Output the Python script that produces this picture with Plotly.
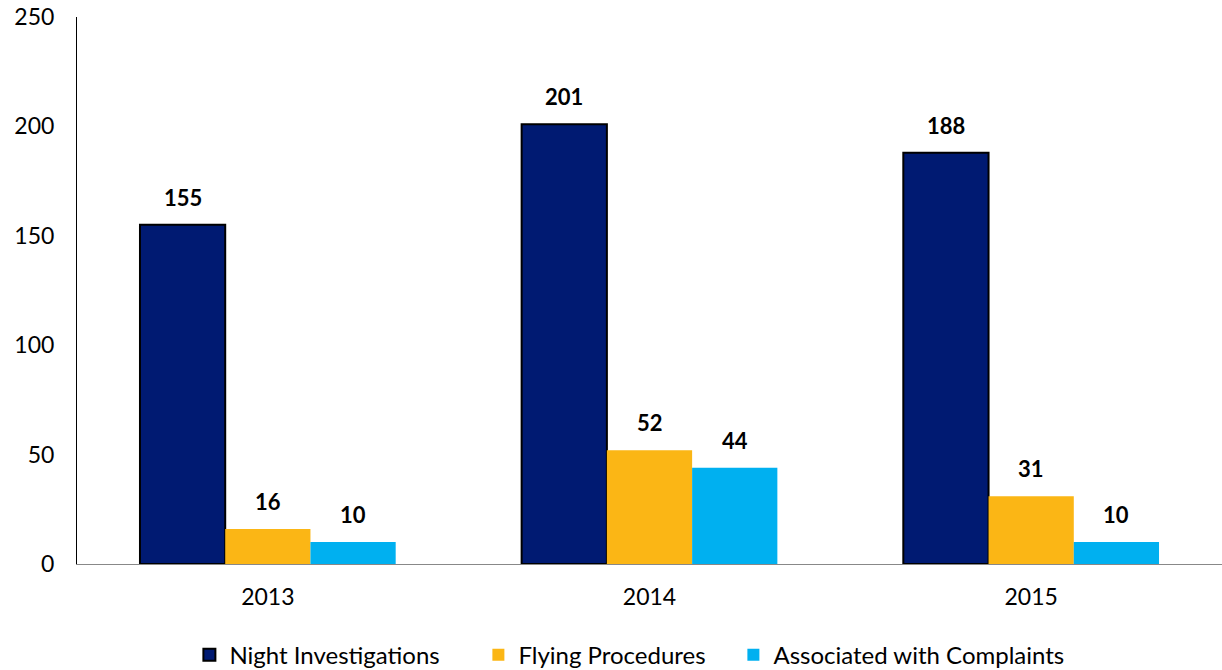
import plotly.graph_objects as go

years = ["2013", "2014", "2015"]
night_investigations = [155, 201, 188]
flying_procedures = [16, 52, 31]
associated_complaints = [10, 44, 10]
y_ticks = [0, 50, 100, 150, 200, 250]

series = [
    ("Night Investigations", night_investigations, "#001A72", "black", 2, 244),
    ("Flying Procedures", flying_procedures, "#FBB615", "#FBB615", 0, 210),
    ("Associated with Complaints", associated_complaints, "#00B0F0", "#00B0F0", 0, 290),
]

BARGAP = 0.33
FONT = "Lato, 'Open Sans', sans-serif"

x_pos = list(range(len(years)))
bar_w = (1 - BARGAP) / len(series)

fig = go.Figure()
for j, (name, vals, color, edge, lw, lgw) in enumerate(series):
    fig.add_trace(go.Bar(
        x=x_pos, y=vals, name=name, legendwidth=lgw,
        marker=dict(color=color, line=dict(color=edge, width=lw)),
    ))
    offset = (j - (len(series) - 1) / 2) * bar_w
    for i, v in enumerate(vals):
        fig.add_annotation(
            x=x_pos[i] + offset, y=v, text=f"<b>{v}</b>",
            showarrow=False, yanchor="bottom", yshift=12,
            font=dict(size=22, color="black", family=FONT),
        )

fig.update_layout(
    width=1222, height=670,
    margin=dict(l=77, r=0, t=17, b=106),
    barmode="group", bargap=BARGAP, bargroupgap=0,
    plot_bgcolor="white", paper_bgcolor="white",
    font=dict(family=FONT, size=23, color="black"),
    legend=dict(
        orientation="h", x=0.482, xanchor="center",
        yref="container", y=0.022, yanchor="middle",
        font=dict(size=24), traceorder="normal",
    ),
    xaxis=dict(
        tickvals=x_pos, ticktext=years, range=[-0.5, len(years) - 0.5],
        showline=True, linecolor="#888888", linewidth=1,
        showgrid=False, zeroline=False, ticks="", ticklabelstandoff=12,
    ),
    yaxis=dict(
        range=[0, 250], tickvals=y_ticks, showline=True, linecolor="black",
        linewidth=1, showgrid=False, zeroline=False, ticks="",
        ticklabelstandoff=17, automargin=False, ticklabeloverflow="allow",
    ),
)

# drop the default 8px body margin so the figure sits at the page corner
fig.write_html(
    "out.html",
    config={"displayModeBar": False},
    post_script="document.body.style.margin = '0';",
)
